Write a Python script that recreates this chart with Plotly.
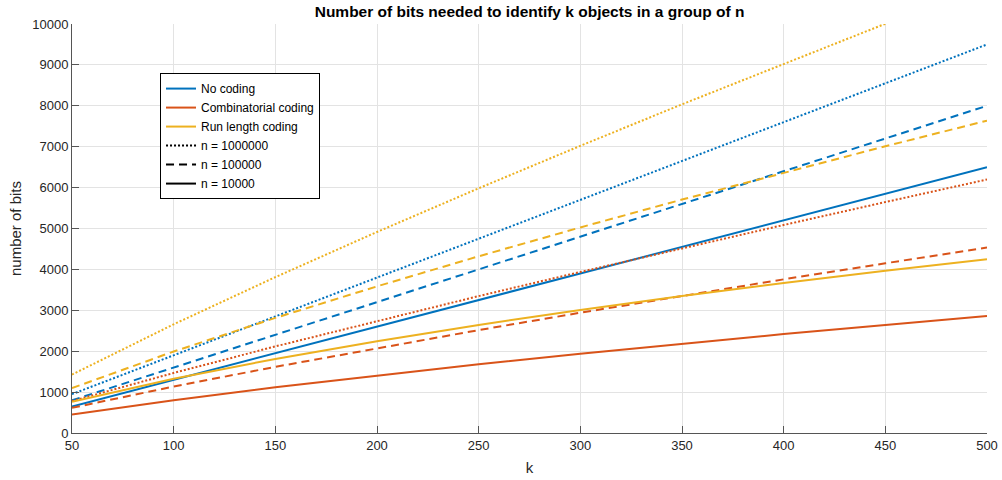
import plotly.graph_objects as go

# Number of identified objects
k = [50, 100, 150, 200, 250, 300, 350, 400, 450, 500]

# No coding: fixed-width index per object
none_1e6 = [950, 1900, 2850, 3800, 4750, 5700, 6650, 7600, 8550, 9500]
none_1e5 = [800, 1600, 2400, 3200, 4000, 4800, 5600, 6400, 7200, 8000]
none_1e4 = [650, 1300, 1950, 2600, 3250, 3900, 4550, 5200, 5850, 6500]

# Combinatorial coding
comb_1e6 = [782, 1468, 2117, 2741, 3347, 3938, 4517, 5086, 5646, 6198]
comb_1e5 = [616, 1136, 1618, 2076, 2516, 2941, 3354, 3757, 4150, 4536]
comb_1e4 = [450, 803, 1119, 1409, 1681, 1939, 2183, 2418, 2642, 2858]

# Run length coding
rl_1e6 = [1429, 2658, 3811, 4915, 5983, 7021, 8036, 9030, 10005, 10965]
rl_1e5 = [1097, 1993, 2814, 3585, 4320, 5026, 5707, 6368, 7010, 7637]
rl_1e4 = [764, 1326, 1811, 2246, 2643, 3009, 3350, 3668, 3967, 4248]

x_ticks = [50, 100, 150, 200, 250, 300, 350, 400, 450, 500]
y_ticks = [0, 1000, 2000, 3000, 4000, 5000, 6000, 7000, 8000, 9000, 10000]

BLUE = "#0072BD"
ORANGE = "#D95319"
YELLOW = "#EDB120"
DOT = "2px,2px"
DASH = "8px,5px"
LW = 2

series = [
    (none_1e6, BLUE, DOT), (none_1e5, BLUE, DASH), (none_1e4, BLUE, "solid"),
    (comb_1e6, ORANGE, DOT), (comb_1e5, ORANGE, DASH), (comb_1e4, ORANGE, "solid"),
    (rl_1e6, YELLOW, DOT), (rl_1e5, YELLOW, DASH), (rl_1e4, YELLOW, "solid"),
]

fig = go.Figure()
for ys, color, dash in series:
    fig.add_trace(go.Scatter(
        x=k, y=ys, mode="lines", showlegend=False, hoverinfo="skip",
        line=dict(color=color, width=LW, dash=dash),
    ))

# Legend entries: colour identifies the coding, line style identifies n
legend_items = [
    ("No coding", BLUE, "solid"),
    ("Combinatorial coding", ORANGE, "solid"),
    ("Run length coding", YELLOW, "solid"),
    ("n = 1000000", "#000000", DOT),
    ("n = 100000", "#000000", DASH),
    ("n = 10000", "#000000", "solid"),
]
for name, color, dash in legend_items:
    fig.add_trace(go.Scatter(
        x=[None], y=[None], mode="lines", name=name,
        line=dict(color=color, width=LW, dash=dash),
    ))

FONT = "Liberation Sans, Arial, Helvetica, sans-serif"
TXT = "#262626"

fig.update_layout(
    width=1002, height=480,
    margin=dict(l=72, r=15, t=24, b=47),
    paper_bgcolor="white", plot_bgcolor="white",
    font=dict(family=FONT, size=13, color=TXT),
    title=dict(
        text="<b>Number of bits needed to identify k objects in a group of n</b>",
        x=0.5285, xanchor="center", y=0.975, yanchor="middle",
        font=dict(family=FONT, size=15.5, color="#000000"),
    ),
    legend=dict(
        x=0.0962, y=0.880, xanchor="left", yanchor="top",
        bgcolor="white", bordercolor="#000000", borderwidth=1,
        font=dict(family=FONT, size=12, color="#000000"),
        itemwidth=30, tracegroupgap=0,
    ),
    xaxis=dict(
        range=[50, 500], tickvals=x_ticks,
        ticktext=[str(v) for v in x_ticks],
        showgrid=True, gridcolor="#e3e3e3", gridwidth=1,
        showline=True, linecolor="#555555", linewidth=1,
        ticks="inside", ticklen=7, tickcolor="#555555",
        zeroline=False, mirror=False, automargin=False,
        title=dict(text="k", font=dict(size=15, color=TXT), standoff=10),
    ),
    yaxis=dict(
        range=[0, 10000], tickvals=y_ticks,
        ticktext=[str(v) for v in y_ticks],
        showgrid=True, gridcolor="#e3e3e3", gridwidth=1,
        showline=True, linecolor="#555555", linewidth=1,
        ticks="inside", ticklen=7, tickcolor="#555555",
        zeroline=False, mirror=False, automargin=False,
        title=dict(text="number of bits", font=dict(size=15, color=TXT), standoff=6),
    ),
)

fig.write_html("out.html")
